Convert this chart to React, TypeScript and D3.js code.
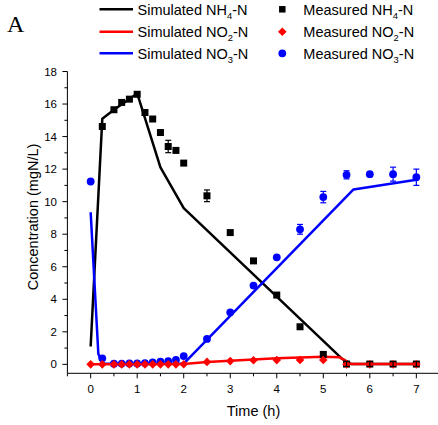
import React from "react";
import * as d3 from "d3";

// Simulated curves
const simNH4Time = [0, 0.25, 0.5, 1.0, 1.5, 2.0, 5.4, 5.6, 7];
const simNH4 = [1.1, 15.1, 15.65, 16.65, 12.1, 9.6, 0.35, 0.02, 0.02];
const simNO2Time = [0, 2, 2.5, 3, 3.5, 4, 4.5, 5, 5.35, 5.6, 7];
const simNO2 = [0.0, 0.02, 0.15, 0.22, 0.3, 0.37, 0.42, 0.46, 0.43, 0.02, 0.02];
const simNO3Time = [0, 0.165, 0.25, 0.5, 2.0, 5.65, 7];
const simNO3 = [9.35, 0.65, 0.05, 0.03, 0.05, 10.75, 11.35];

// Measured
const measTime = [0, 0.25, 0.5, 0.667, 0.833, 1, 1.167, 1.333, 1.5, 1.667, 1.833, 2, 2.5, 3, 3.5, 4, 4.5, 5, 5.5, 6, 6.5, 7];
const measNH4 = [null, 14.62, 15.65, 16.1, 16.3, 16.6, 15.48, 15.08, 14.25, 13.39, 13.15, 12.37, 10.36, 8.1, 6.36, 4.26, 2.31, 0.61, 0.02, 0.02, 0.02, 0.02];
const errNH4 = [0, 0, 0, 0, 0, 0, 0, 0, 0, 0.38, 0, 0, 0.36, 0, 0, 0, 0, 0, 0.15, 0.15, 0.15, 0.15];
const measNO2 = [0, 0, 0, 0, 0, 0, 0, 0, 0, 0, 0, 0.01, 0.15, 0.2, 0.25, 0.26, 0.27, 0.27, 0.0, 0.0, 0.0, 0.0];
const measNO3 = [11.24, 0.37, 0.04, 0.05, 0.06, 0.06, 0.08, 0.12, 0.16, 0.2, 0.28, 0.51, 1.56, 3.2, 4.84, 6.58, 8.3, 10.28, 11.65, 11.69, 11.69, 11.5];
const errNO3 = [0, 0, 0, 0, 0, 0, 0, 0, 0, 0, 0, 0, 0, 0, 0, 0, 0.3, 0.35, 0.25, 0, 0.43, 0.5];

const xTicks = [0, 1, 2, 3, 4, 5, 6, 7];
const yTicks = [0, 2, 4, 6, 8, 10, 12, 14, 16, 18];

const FONT = "'Liberation Sans', Arial, sans-serif";

export default function App() {
  const x = d3.scaleLinear().domain([-0.5, 7.5]).range([67.4, 439.6]);
  const y = d3.scaleLinear().domain([-0.55, 18]).range([373.3, 71.5]);
  const x0 = 67.4;
  const yB = 373.3;

  const line = (ts: number[], vs: number[]) =>
    d3.line<number>().x((_, i) => x(ts[i])).y((v) => y(v))(vs) || "";

  const xMinor = d3.range(-0.5, 7.51, 0.5);
  const yMinor = d3.range(0, 18.01, 1);

  const square = (cx: number, cy: number, s = 7) => (
    <rect x={cx - s / 2} y={cy - s / 2} width={s} height={s} fill="#000" />
  );
  const diamond = (cx: number, cy: number, r = 4.3) => (
    <path d={`M${cx},${cy - r}L${cx + r},${cy}L${cx},${cy + r}L${cx - r},${cy}Z`} fill="#ff0000" />
  );
  const circle = (cx: number, cy: number, r = 3.9) => <circle cx={cx} cy={cy} r={r} fill="#0000ff" />;

  const errBar = (t: number, v: number, e: number, color: string, key: string) => {
    if (!e) return null;
    const cx = x(t);
    const y1 = y(v + e);
    const y2 = y(v - e);
    return (
      <g key={key} stroke={color} strokeWidth={1.2}>
        <line x1={cx} x2={cx} y1={y1} y2={y2} />
        <line x1={cx - 3} x2={cx + 3} y1={y1} y2={y1} />
        <line x1={cx - 3} x2={cx + 3} y1={y2} y2={y2} />
      </g>
    );
  };

  const sub = (main: string, s: string, tail: string, fs: number) => (
    <>
      {main}
      <tspan dy={4} fontSize={fs * 0.65}>{s}</tspan>
      <tspan dy={-4}>{tail}</tspan>
    </>
  );

  const legendLines = [
    { color: "#000", label: ["Simulated NH", "4", "-N"], yy: 9.3 },
    { color: "#ff0000", label: ["Simulated NO", "2", "-N"], yy: 31.7 },
    { color: "#0000ff", label: ["Simulated NO", "3", "-N"], yy: 53.3 },
  ];
  const legendMarks = [
    { kind: "sq", label: ["Measured NH", "4", "-N"], yy: 9.3 },
    { kind: "di", label: ["Measured NO", "2", "-N"], yy: 31.7 },
    { kind: "ci", label: ["Measured NO", "3", "-N"], yy: 53.3 },
  ];
  const LFS = 14.5;

  return (
    <svg width={438} height={425} style={{ position: "absolute", left: 0, top: 0, background: "#fff" }}>
      <rect width={438} height={425} fill="#fff" />
      <text x={7} y={32} fontFamily="'Liberation Serif', 'Times New Roman', serif" fontSize={24}>A</text>

      {/* Legend */}
      {legendLines.map((l, i) => (
        <g key={"ll" + i}>
          <line x1={99.5} x2={133} y1={l.yy} y2={l.yy} stroke={l.color} strokeWidth={2.5} />
          <text x={137.5} y={l.yy + 5.2} fontFamily={FONT} fontSize={LFS}>
            {sub(l.label[0], l.label[1], l.label[2], LFS)}
          </text>
        </g>
      ))}
      {legendMarks.map((l, i) => (
        <g key={"lm" + i}>
          {l.kind === "sq" ? square(282.3, l.yy, 6.5) : l.kind === "di" ? diamond(282.3, l.yy) : circle(282.3, l.yy)}
          <text x={303.3} y={l.yy + 5.2} fontFamily={FONT} fontSize={LFS}>
            {sub(l.label[0], l.label[1], l.label[2], LFS)}
          </text>
        </g>
      ))}

      {/* Axes */}
      <g stroke="#000" strokeWidth={1}>
        <line x1={x0} x2={x0} y1={y(18)} y2={yB} />
        <line x1={x0} x2={440} y1={yB} y2={yB} />
        {yMinor.map((v) => (
          <line key={"ym" + v} x1={x0} x2={x0 - (v % 2 === 0 ? 5 : 3)} y1={y(v)} y2={y(v)} />
        ))}
        {xMinor.map((v) => (
          <line key={"xm" + v} x1={x(v)} x2={x(v)} y1={yB} y2={yB + (Number.isInteger(v) ? 5 : 3)} />
        ))}
      </g>
      {yTicks.map((v) => (
        <text key={"yt" + v} x={57} y={y(v) + 4} textAnchor="end" fontFamily={FONT} fontSize={11.5}>{v}</text>
      ))}
      {xTicks.map((v) => (
        <text key={"xt" + v} x={x(v)} y={393} textAnchor="middle" fontFamily={FONT} fontSize={11.5}>{v}</text>
      ))}
      <text x={x(3.5)} y={416} textAnchor="middle" fontFamily={FONT} fontSize={14.5}>Time (h)</text>
      <text transform="translate(38,217) rotate(-90)" textAnchor="middle" fontFamily={FONT} fontSize={14.5}>
        Concentration (mgN/L)
      </text>

      {/* Simulated lines */}
      <path d={line(simNH4Time, simNH4)} fill="none" stroke="#000" strokeWidth={2.5} strokeLinejoin="round" />
      <path d={line(simNO3Time, simNO3)} fill="none" stroke="#0000ff" strokeWidth={2.5} strokeLinejoin="round" />
      <path d={line(simNO2Time, simNO2)} fill="none" stroke="#ff0000" strokeWidth={2.5} strokeLinejoin="round" />

      {/* Measured markers */}
      {measTime.map((t, i) => (measNH4[i] == null ? null : <g key={"n4" + i}>{square(x(t), y(measNH4[i] as number))}</g>))}
      {measTime.map((t, i) => <g key={"n3" + i}>{circle(x(t), y(measNO3[i]))}</g>)}
      {measTime.map((t, i) => <g key={"n2" + i}>{diamond(x(t), y(measNO2[i]))}</g>)}
      {measTime.map((t, i) => (measNH4[i] == null ? null : errBar(t, measNH4[i] as number, errNH4[i], "#000", "e4" + i)))}
      {measTime.map((t, i) => errBar(t, measNO3[i], errNO3[i], "#0000ff", "e3" + i))}
    </svg>
  );
}
